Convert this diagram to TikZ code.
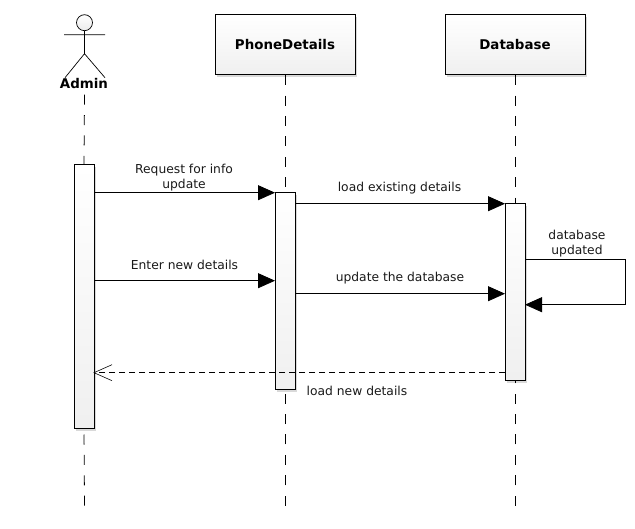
\documentclass[tikz,border=0pt]{standalone}
\usepackage{fontspec}
\setmainfont{DejaVu Sans}
\usetikzlibrary{arrows.meta, shadows}
\tikzset{
  every shadow/.style={fill=black, opacity=.15},
  headbox/.style={draw, line width=1pt, minimum width=140pt, minimum height=60pt, top color=white, bottom color=gray!12, drop shadow={shadow xshift=2pt, shadow yshift=-2pt}, font=\fontsize{13.4}{15}\selectfont\bfseries},
  actbar/.style={draw, line width=1pt, outer sep=0pt, minimum width=20pt, top color=white, bottom color=gray!12, drop shadow={shadow xshift=2pt, shadow yshift=-2pt}},
  lifeline/.style={line width=.8pt, dash pattern=on 10pt off 10.4pt},
  msg/.style={line width=.8pt, -{Triangle[length=17pt, width=15pt]}},
  reply/.style={line width=.7pt, dash pattern=on 6pt off 4pt},
  barb/.style={line width=.6pt},
  msglabel/.style={font=\fontsize{12.3}{15}\selectfont, align=center, text=black!90}
}
\begin{document}
\begin{tikzpicture}[x=1pt, y=-1pt]
\useasboundingbox (0,-.7) rectangle (635,528.3);
% participants
\node[headbox] (phone) at (285,44) {PhoneDetails};
\node[headbox] (db) at (515,44) {Database};
% actor
\node[circle, draw, line width=.7pt, minimum size=16pt, inner sep=0pt, top color=white, bottom color=gray!16] (head) at (84.5,22) {};
\coordinate (hip) at (84.5,53);
\coordinate (armL) at (64,34);
\coordinate (armR) at (105,34);
\coordinate (legL) at (65,77);
\coordinate (legR) at (105,77);
\draw[line width=.7pt] (head.south) -- (hip) (armL) -- (armR) (legL) -- (hip) -- (legR);
\node[font=\fontsize{13.4}{15}\selectfont\bfseries] (admin) at (84,83) {Admin};
% ends of the lifelines
\coordinate (adminTop) at (84.5,94);
\coordinate (adminEnd) at (84.5,505);
\coordinate (phoneEnd) at (285,505);
\coordinate (dbEnd) at (515,505);
% activation bars
\node[actbar, minimum height=264pt] (adminbar) at (84,296) {};
\node[actbar, minimum height=197pt] (phonebar) at (285,290.5) {};
\node[actbar, minimum height=177pt] (dbbar) at (515,291.5) {};
\draw[lifeline] (adminTop) -- (adminbar.north);
\draw[lifeline] (adminEnd) -- (adminbar.south);
\draw[lifeline] (phone.south) -- (phonebar.north);
\draw[lifeline] (phoneEnd) -- (phonebar.south);
\draw[lifeline] (db.south) -- (dbbar.north);
\draw[lifeline] (dbEnd) -- (dbbar.south);
% message heights
\coordinate (enterY) at (0,280);
\coordinate (updateY) at (0,293);
\coordinate (selfA) at (0,259);
\coordinate (selfB) at (0,304);
\coordinate (replyY) at (0,372);
\coordinate (selfX) at (625,0);
% messages
\draw[msg] (adminbar.east |- phonebar.north) -- (phonebar.north west);
\draw[msg] (phonebar.east |- dbbar.north) -- (dbbar.north west);
\draw[msg] (adminbar.east |- enterY) -- (phonebar.west |- enterY);
\draw[msg] (phonebar.east |- updateY) -- (dbbar.west |- updateY);
\draw[msg] (dbbar.east |- selfA) -- (selfX |- selfA) -- (selfX |- selfB) -- (dbbar.east |- selfB);
\draw[reply] (dbbar.west |- replyY) -- (adminbar.east |- replyY);
\draw[barb] (adminbar.east |- replyY) ++(18,-8) -- (adminbar.east |- replyY) -- ++(18,8);
% labels
\node[msglabel] (reqtxt) at (184,176.5) {Request for info\\update};
\node[msglabel] (loadtxt) at (399.5,187) {load existing details};
\node[msglabel] (entertxt) at (184.5,264) {Enter new details};
\node[msglabel] (updtxt) at (400,277) {update the database};
\node[msglabel] (dbtxt) at (577,242.5) {database\\updated};
\node[msglabel] (newtxt) at (357,390) {load new details};
\end{tikzpicture}
\end{document}
